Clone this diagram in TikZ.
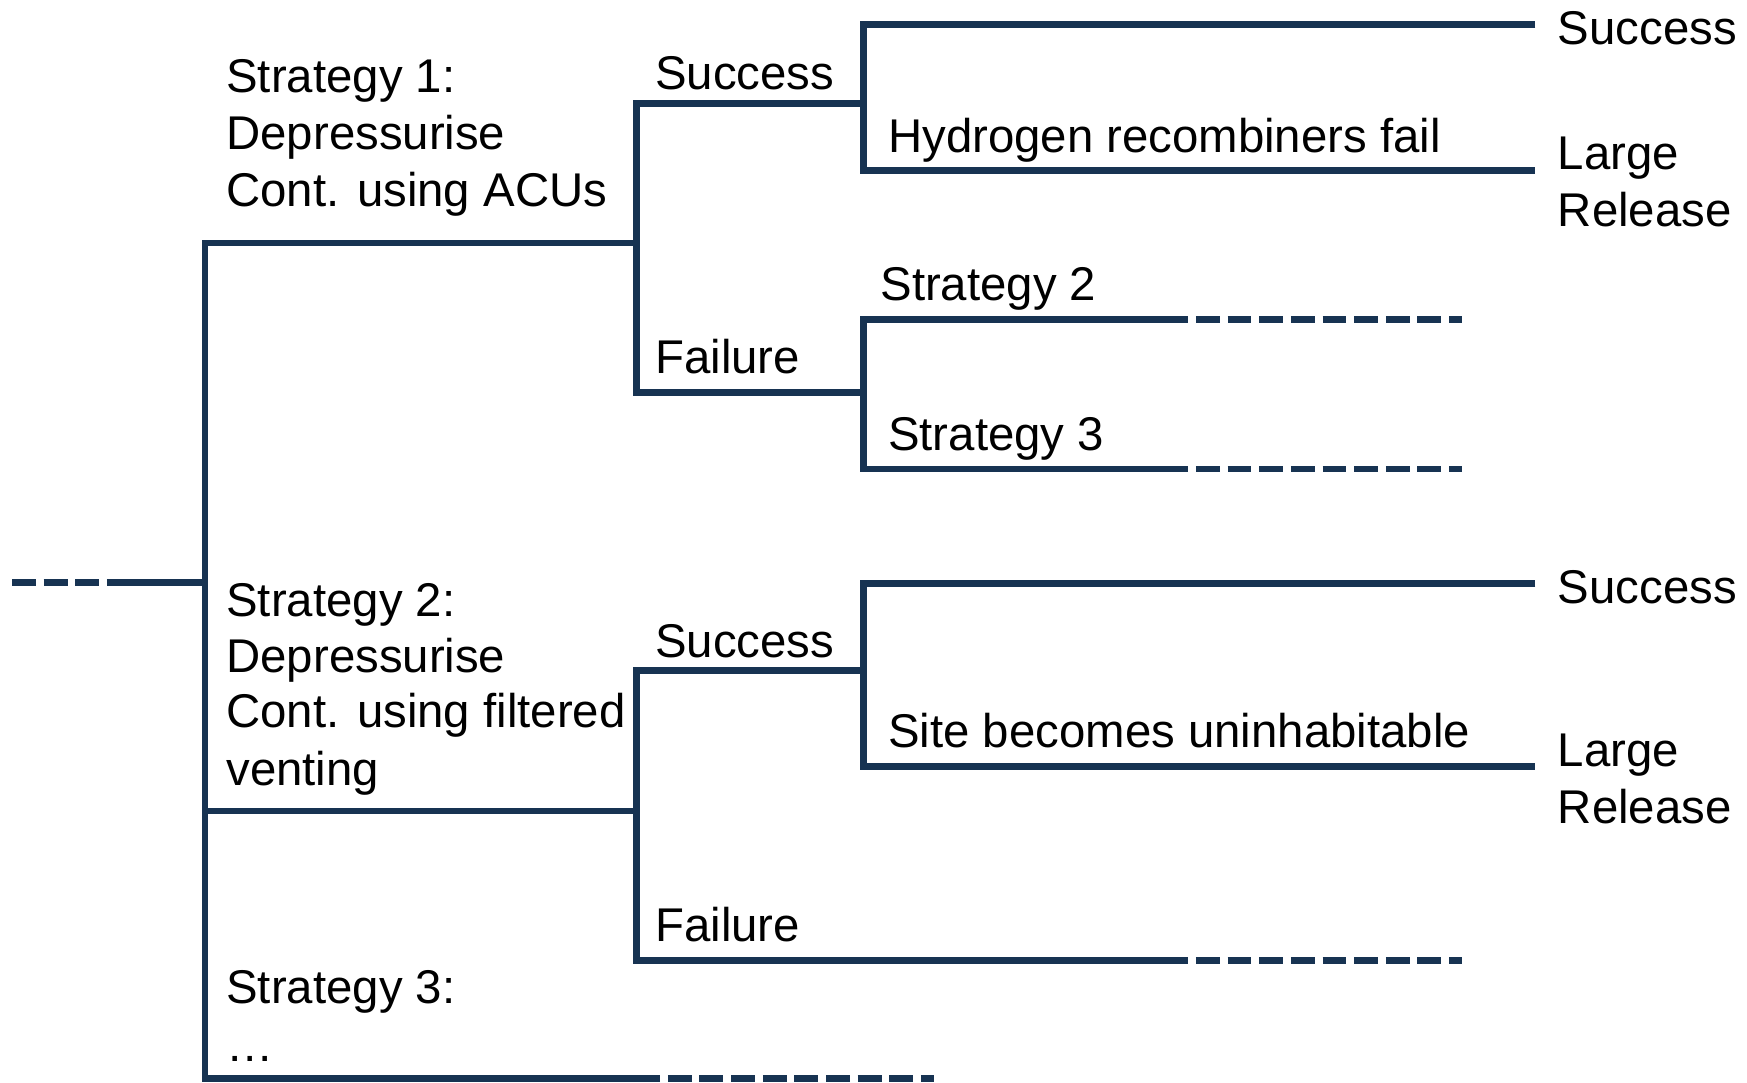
\documentclass[tikz,border=0pt]{standalone}
\usepackage{fontspec}
\setmainfont{Liberation Sans}
\definecolor{navy}{RGB}{23,51,82}
\begin{document}
\begin{tikzpicture}[x=1pt,y=-1pt,
  tree/.style={line width=6pt, draw=navy, line cap=butt, line join=miter},
  cont/.style={tree, dash pattern=on 21.4pt off 7pt},
  lbl/.style={anchor=base west, inner sep=0pt, font=\fontsize{42.5}{51}\selectfont}]
\useasboundingbox (0,0) rectangle (1568,972);

% junctions and ends of the event tree
\coordinate (lead) at (10.8,523);
\coordinate (leadS) at (105,523);
\coordinate (root) at (184,523);
\coordinate (r1) at (184,218);
\coordinate (r2) at (184,728);
\coordinate (r3) at (184,968);
\coordinate (a1) at (571,218);
\coordinate (a2) at (571,728);
\coordinate (a3) at (571,968);
\coordinate (a3e) at (838,968);
% strategy 1 outcomes
\coordinate (a1s) at (571,93);
\coordinate (a1f) at (571,352);
\coordinate (b1s) at (775,93);
\coordinate (b1f) at (775,352);
\coordinate (b1t) at (775,22);
\coordinate (b1b) at (775,153);
\coordinate (e1t) at (1378,22);
\coordinate (e1b) at (1378,153);
\coordinate (c2) at (775,287);
\coordinate (c3) at (775,421);
\coordinate (c2m) at (1045,287);
\coordinate (c3m) at (1045,421);
\coordinate (c2e) at (1312,287);
\coordinate (c3e) at (1312,421);
% strategy 2 outcomes
\coordinate (a2s) at (571,602);
\coordinate (a2f) at (571,862);
\coordinate (b2s) at (775,602);
\coordinate (b2t) at (775,524);
\coordinate (b2b) at (775,688);
\coordinate (e2t) at (1378,524);
\coordinate (e2b) at (1378,688);
\coordinate (f2m) at (1045,862);
\coordinate (f2e) at (1312,862);

% incoming branch
\draw[cont] (lead) -- (leadS);
\draw[tree] (leadS) -- (root);
% first level
\draw[tree] (a1) -- (r1) -- (r3) -- (a3);
\draw[cont] (a3) -- (a3e);
\draw[tree] (r2) -- (a2);
% strategy 1
\draw[tree] (b1s) -- (a1s) -- (a1f) -- (b1f);
\draw[tree] (e1t) -- (b1t) -- (b1b) -- (e1b);
\draw[tree] (c2m) -- (c2) -- (c3) -- (c3m);
\draw[cont] (c2m) -- (c2e);
\draw[cont] (c3m) -- (c3e);
% strategy 2
\draw[tree] (b2s) -- (a2s) -- (a2f) -- (f2m);
\draw[cont] (f2m) -- (f2e);
\draw[tree] (e2t) -- (b2t) -- (b2b) -- (e2b);

% labels
\node[lbl] (s1a) at (203,83) {Strategy 1:};
\node[lbl] (s1b) at (203,134) {Depressurise};
\node[lbl] (s1c) at (203,185) {Cont. using ACUs};
\node[lbl] (s1ok) at (588,80) {Success};
\node[lbl] (s1h) at (797,137) {Hydrogen recombiners fail};
\node[lbl] (o1a) at (1398,40) {Success};
\node[lbl] (o1b) at (1398,152) {Large};
\node[lbl] (o1c) at (1398,203) {Release};
\node[lbl] (s1st2) at (790,270) {Strategy 2};
\node[lbl] (s1no) at (588,335) {Failure};
\node[lbl] (s1st3) at (797,404) {Strategy 3};

\node[lbl] (s2a) at (203,553) {Strategy 2:};
\node[lbl] (s2b) at (203,604) {Depressurise};
\node[lbl] (s2c) at (203,653) {Cont. using filtered};
\node[lbl] (s2d) at (203,705) {venting};
\node[lbl] (s2ok) at (588,590) {Success};
\node[lbl] (s2u) at (797,671) {Site becomes uninhabitable};
\node[lbl] (o2a) at (1398,542) {Success};
\node[lbl] (o2b) at (1398,688) {Large};
\node[lbl] (o2c) at (1398,739) {Release};
\node[lbl] (s2no) at (588,845) {Failure};

\node[lbl] (s3a) at (203,901) {Strategy 3:};
\node[lbl] (s3b) at (203,953) {…};
\end{tikzpicture}
\end{document}
